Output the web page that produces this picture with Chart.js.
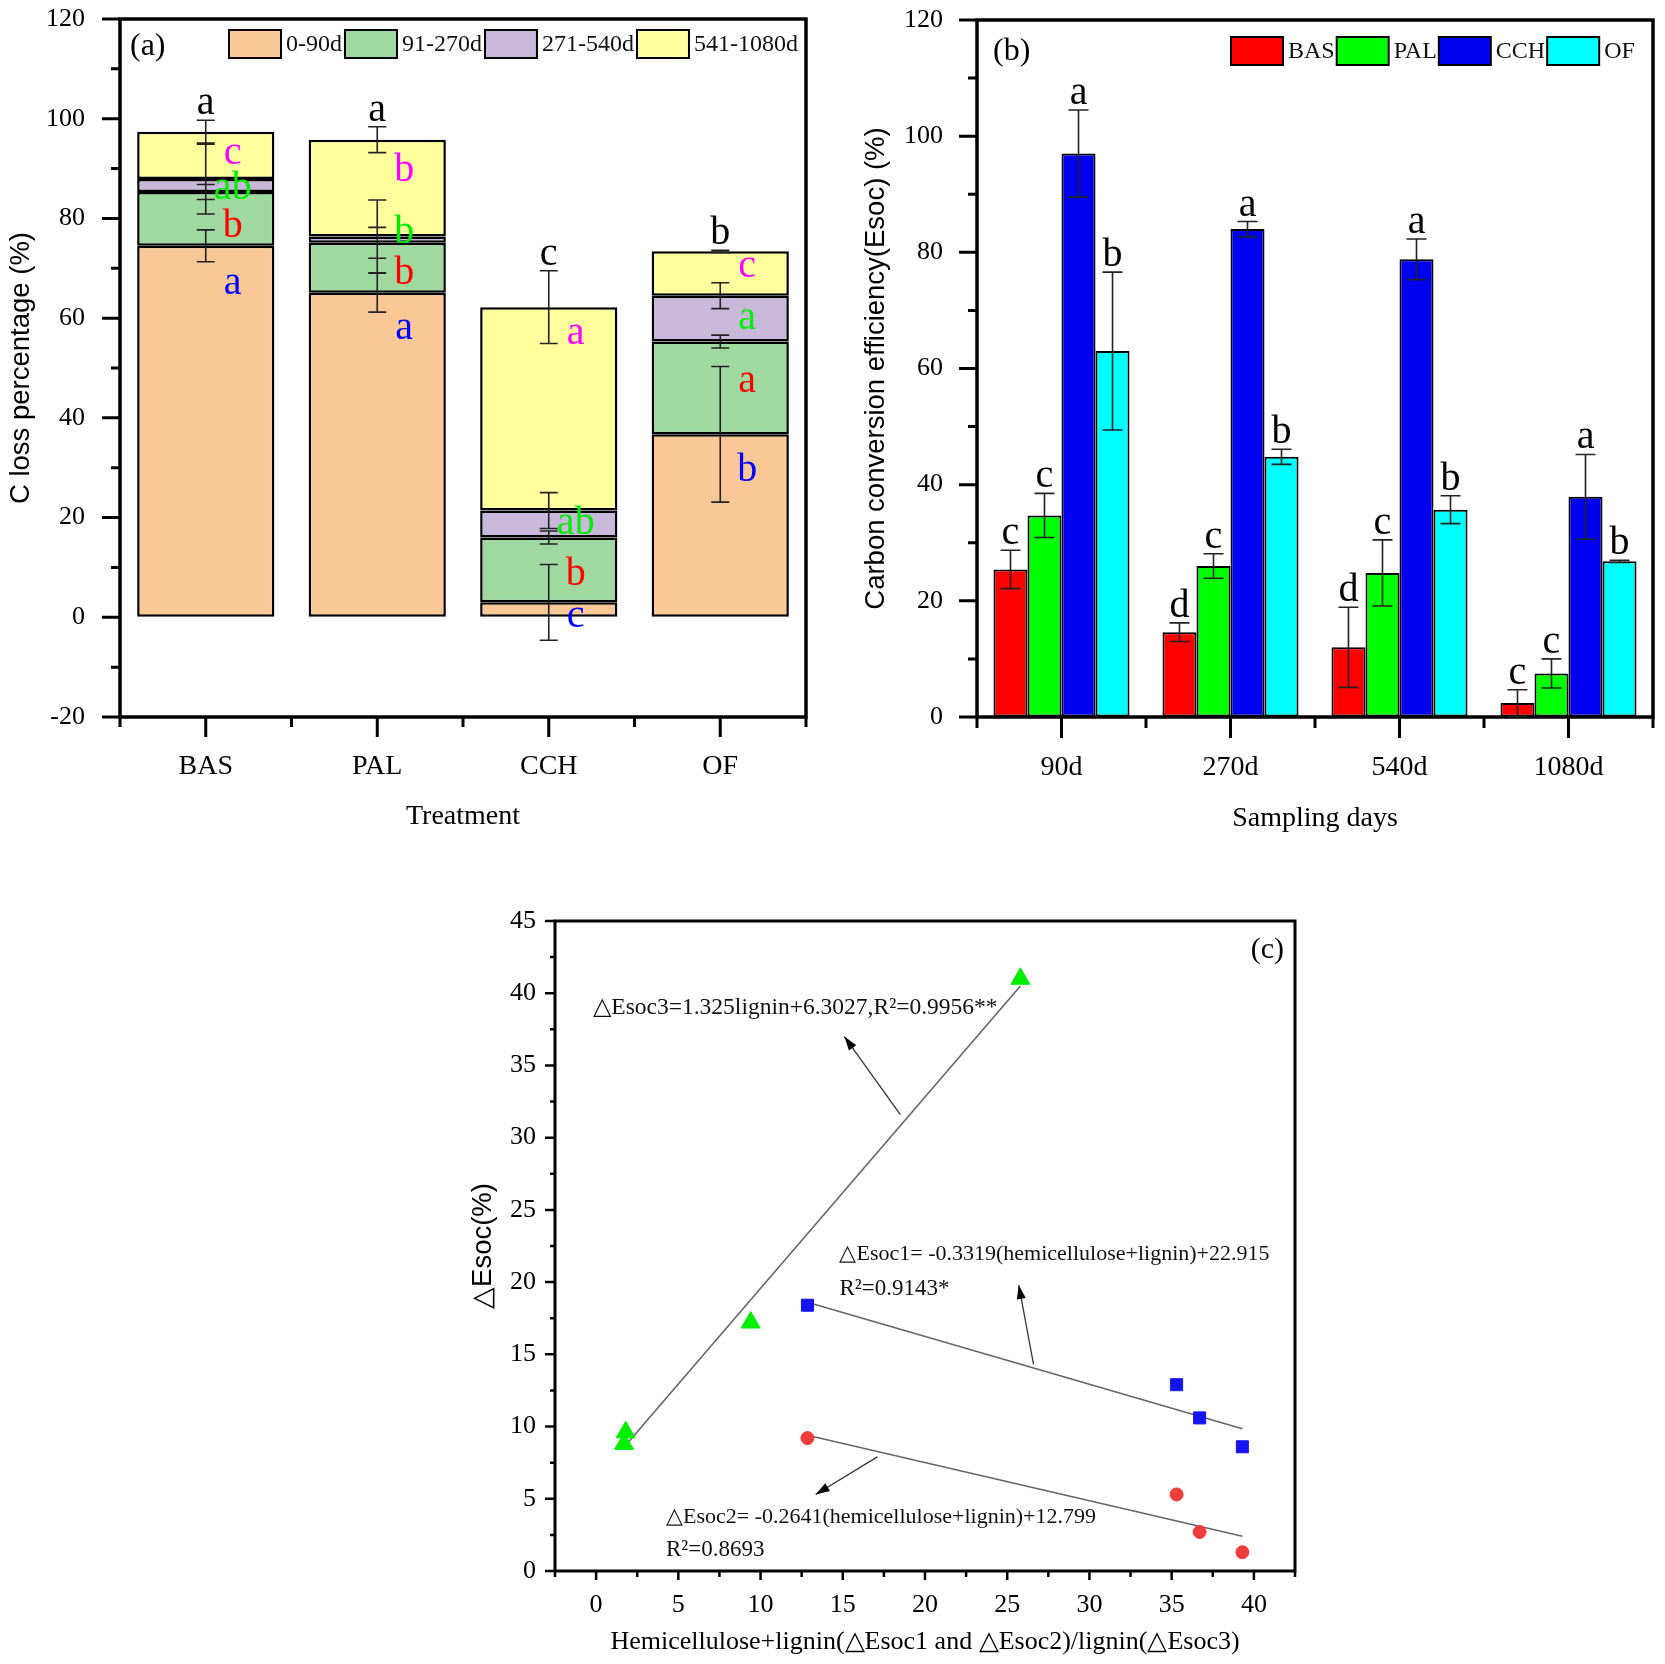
<!DOCTYPE html>
<html>
<head>
<meta charset="utf-8">
<script src="https://cdn.jsdelivr.net/npm/chart.js@4.4.1/dist/chart.umd.min.js"></script>
<style>
  body { margin: 0; background: #fff; width: 1665px; height: 1664px; position: relative; overflow: hidden; }
  canvas { position: absolute; }
</style>
</head>
<body>
<canvas id="chartA" width="830" height="840" style="left:0px;top:0px"></canvas>
<canvas id="chartB" width="835" height="840" style="left:830px;top:0px"></canvas>
<canvas id="chartC" width="900" height="804" style="left:440px;top:860px"></canvas>
<script>
const SERIF = "'Liberation Serif', 'Times New Roman', serif";
const SANS = "'Liberation Sans', Arial, sans-serif";

// ---- panel (a): C loss per period
const treatments = ["BAS", "PAL", "CCH", "OF"];
const periods = ["0-90d", "91-270d", "271-540d", "541-1080d"];
const loss0to90 = [74.5, 65.1, 3.0, 36.7];
const loss91to270 = [10.8, 10.0, 13.0, 18.6];
const loss271to540 = [2.6, 1.3, 5.4, 9.2];
const loss541to1080 = [9.5, 19.4, 40.8, 8.9];
const err0to90 = [3.2, 3.9, 7.6, 13.6];
const err91to270 = [1.5, 3.1, 1.3, 1.3];
const err271to540 = [7.0, 7.3, 3.6, 2.6];
const err541to1080 = [2.3, 2.6, 7.3, 0.2];
const sigTotal = ["a", "a", "c", "b"];
const sig0to90 = ["a", "a", "c", "b"];
const sig91to270 = ["b", "b", "b", "a"];
const sig271to540 = ["ab", "b", "ab", "a"];
const sig541to1080 = ["c", "b", "a", "c"];
// y value where each period letter is written
const sigAt0to90 = [67, 58, 0.1, 29.5];
const sigAt91to270 = [78.3, 69, 8.5, 47.2];
const sigAt271to540 = [86.1, 77.1, 18.9, 60];
const sigAt541to1080 = [93.1, 89.7, 57, 70.3];

// ---- panel (b): Esoc by sampling day
const days = ["90d", "270d", "540d", "1080d"];
const esocBAS = [25.4, 14.6, 12.0, 2.4];
const esocPAL = [34.7, 26.0, 24.8, 7.5];
const esocCCH = [97.0, 84.0, 78.8, 37.9];
const esocOF = [63.0, 44.8, 35.7, 26.8];
const errBAS = [3.3, 1.6, 6.9, 2.3];
const errPAL = [3.8, 2.1, 5.7, 2.5];
const errCCH = [7.5, 1.3, 3.5, 7.3];
const errOF = [13.6, 1.3, 2.4, 0.2];
const sigBAS = ["c", "d", "d", "c"];
const sigPAL = ["c", "c", "c", "c"];
const sigCCH = ["a", "a", "a", "a"];
const sigOF = ["b", "b", "b", "b"];

// ---- panel (c): delta Esoc vs. lignin / hemicellulose+lignin
const lignin = [1.7, 1.8, 9.4, 25.8];
const dEsoc3 = [8.8, 9.6, 17.2, 41.0];
const hemiLignin = [12.85, 35.3, 36.7, 39.3];
const dEsoc1 = [18.4, 12.9, 10.6, 8.6];
const dEsoc2 = [9.2, 5.3, 2.7, 1.3];
const fit3X = [1.8, 25.8], fit3Y = [8.7, 40.5];
const fit1X = [12.85, 39.3], fit1Y = [18.6, 9.85];
const fit2X = [12.85, 39.3], fit2Y = [9.4, 2.4];

function range(a, b, step) {
  const out = [];
  for (let v = a; v <= b + 1e-9; v += step) out.push(v);
  return out;
}

// invisible tick marks only used to push the labels away from the axis
const hiddenGrid = len => ({ display: true, drawOnChartArea: false, drawTicks: true, tickLength: len, color: "rgba(0,0,0,0)" });

function drawFrame(chart, t) {
  const { ctx, chartArea: a, scales: { x, y } } = chart;
  ctx.save();
  ctx.strokeStyle = "#000";
  ctx.lineWidth = t.tickWidth;
  ctx.beginPath();
  t.yMajor.forEach(v => { const p = y.getPixelForValue(v); ctx.moveTo(a.left, p); ctx.lineTo(a.left - t.yMajorLen, p); });
  t.yMinor.forEach(v => { const p = y.getPixelForValue(v); ctx.moveTo(a.left, p); ctx.lineTo(a.left - t.yMinorLen, p); });
  t.xMajor.forEach(v => { const p = x.getPixelForValue(v); ctx.moveTo(p, a.bottom); ctx.lineTo(p, a.bottom + t.xMajorLen); });
  t.xMinor.forEach(v => { const p = x.getPixelForValue(v); ctx.moveTo(p, a.bottom); ctx.lineTo(p, a.bottom + t.xMinorLen); });
  ctx.stroke();
  ctx.lineWidth = t.frameWidth;
  ctx.strokeRect(a.left, a.top, a.right - a.left, a.bottom - a.top);
  ctx.restore();
}

function errBar(ctx, px, yScale, v, e, cap) {
  const y1 = yScale.getPixelForValue(v - e), y2 = yScale.getPixelForValue(v + e);
  ctx.moveTo(px, y1); ctx.lineTo(px, y2);
  ctx.moveTo(px - cap / 2, y1); ctx.lineTo(px + cap / 2, y1);
  ctx.moveTo(px - cap / 2, y2); ctx.lineTo(px + cap / 2, y2);
}

function boxLegend(chart, x0, top, gap) {
  const ctx = chart.ctx;
  ctx.save();
  ctx.font = "24px " + SERIF;
  ctx.textBaseline = "middle";
  ctx.textAlign = "left";
  let x = x0;
  chart.data.datasets.forEach(ds => {
    ctx.fillStyle = ds.backgroundColor;
    ctx.fillRect(x, top, 52, 28);
    ctx.lineWidth = 2;
    ctx.strokeStyle = "#000";
    ctx.strokeRect(x, top, 52, 28);
    ctx.fillStyle = "#111";
    ctx.fillText(ds.label, x + 57, top + 15);
    x += 57 + ctx.measureText(ds.label).width + gap;
  });
  ctx.restore();
}

function panelTag(ctx, text, x, y, size) {
  ctx.save();
  ctx.font = size + "px " + SERIF;
  ctx.fillStyle = "#000";
  ctx.textBaseline = "middle";
  ctx.textAlign = "left";
  ctx.fillText(text, x, y);
  ctx.restore();
}

const yTickFont = { family: SERIF, size: 26 };
const xTickFont = { family: SERIF, size: 28 };
const xTitleFont = { family: SERIF, size: 28 };
const yTitleFont = { family: SANS, size: 27.5 };

// ---------------- panel (a)
const aColors = ["#F9C896", "#A0D9A0", "#C8B8DA", "#FFFF9E"];
const aSegs = [loss0to90, loss91to270, loss271to540, loss541to1080];
const aErrs = [err0to90, err91to270, err271to540, err541to1080];
const aSigs = [sig0to90, sig91to270, sig271to540, sig541to1080];
const aSigAt = [sigAt0to90, sigAt91to270, sigAt271to540, sigAt541to1080];
const aSigColors = ["#0000FF", "#FF0000", "#00EE00", "#FF00FF"];

const decorA = {
  id: "decorA",
  afterDraw(chart) {
    const { ctx, scales: { x, y } } = chart;
    drawFrame(chart, {
      tickWidth: 3, frameWidth: 3.5,
      yMajor: range(-20, 120, 20), yMinor: range(-10, 110, 20), yMajorLen: 18, yMinorLen: 9,
      xMajor: [0, 1, 2, 3], xMinor: [-0.5, 0.5, 1.5, 2.5, 3.5], xMajorLen: 20, xMinorLen: 10
    });
    ctx.save();
    ctx.strokeStyle = "#222";
    ctx.lineWidth = 1.6;
    ctx.beginPath();
    const tops = [];
    treatments.forEach((t, i) => {
      const px = x.getPixelForValue(i);
      let cum = 0, top = -Infinity;
      aSegs.forEach((s, k) => {
        cum += s[i];
        errBar(ctx, px, y, cum, aErrs[k][i], 18);
        top = Math.max(top, cum + aErrs[k][i]);
      });
      tops.push(top);
    });
    ctx.stroke();
    ctx.textAlign = "center";
    ctx.textBaseline = "alphabetic";
    ctx.font = "40px " + SERIF;
    ctx.fillStyle = "#000";
    treatments.forEach((t, i) => {
      ctx.fillText(sigTotal[i], x.getPixelForValue(i), y.getPixelForValue(tops[i]) - 6);
    });
    ctx.textBaseline = "middle";
    aSigs.forEach((sig, k) => {
      ctx.fillStyle = aSigColors[k];
      treatments.forEach((t, i) => {
        ctx.fillText(sig[i], x.getPixelForValue(i) + 27, y.getPixelForValue(aSigAt[k][i]));
      });
    });
    ctx.restore();
    boxLegend(chart, 229, 30, 3);
    panelTag(ctx, "(a)", 130, 47, 32);
  }
};

new Chart(document.getElementById("chartA"), {
  type: "bar",
  data: {
    labels: treatments,
    datasets: aSegs.map((s, k) => ({
      label: periods[k], data: s, backgroundColor: aColors[k],
      borderColor: "#000", borderWidth: 2.5, borderSkipped: false
    }))
  },
  options: {
    responsive: false, animation: false,
    layout: { padding: { top: 19, right: 24, left: 0, bottom: 0 } },
    datasets: { bar: { barPercentage: 0.8, categoryPercentage: 1 } },
    plugins: { legend: { display: false }, tooltip: { enabled: false } },
    scales: {
      x: {
        stacked: true,
        grid: hiddenGrid(33), border: { display: false },
        ticks: { font: xTickFont, color: "#000", padding: 0 },
        title: { display: true, text: "Treatment", font: xTitleFont, color: "#000", padding: { top: 0, bottom: 7 } },
        afterFit(s) { s.height = 123; }
      },
      y: {
        stacked: true, min: -20, max: 120,
        grid: hiddenGrid(35), border: { display: false },
        ticks: { stepSize: 20, font: yTickFont, color: "#000", padding: 0 },
        title: { display: true, text: "C loss percentage (%)", font: yTitleFont, color: "#000", padding: { top: 5, bottom: 0 } },
        afterFit(s) { s.width = 120; }
      }
    }
  },
  plugins: [decorA]
});

// ---------------- panel (b)
const bValues = [esocBAS, esocPAL, esocCCH, esocOF];
const bErrs = [errBAS, errPAL, errCCH, errOF];
const bSigs = [sigBAS, sigPAL, sigCCH, sigOF];
const bNames = ["BAS", "PAL", "CCH", "OF"];
const bColors = ["#FF0000", "#00FF00", "#0000F0", "#00FFFF"];

const decorB = {
  id: "decorB",
  afterDraw(chart) {
    const { ctx, scales: { y } } = chart;
    drawFrame(chart, {
      tickWidth: 3, frameWidth: 3.5,
      yMajor: range(0, 120, 20), yMinor: range(10, 110, 20), yMajorLen: 18, yMinorLen: 9,
      xMajor: [0, 1, 2, 3], xMinor: [-0.5, 0.5, 1.5, 2.5, 3.5], xMajorLen: 21, xMinorLen: 11
    });
    ctx.save();
    ctx.strokeStyle = "#222";
    ctx.lineWidth = 1.6;
    ctx.beginPath();
    bValues.forEach((vals, d) => {
      const meta = chart.getDatasetMeta(d);
      vals.forEach((v, i) => errBar(ctx, meta.data[i].x, y, v, bErrs[d][i], 20));
    });
    ctx.stroke();
    ctx.font = "40px " + SERIF;
    ctx.fillStyle = "#000";
    ctx.textAlign = "center";
    ctx.textBaseline = "alphabetic";
    bValues.forEach((vals, d) => {
      const meta = chart.getDatasetMeta(d);
      vals.forEach((v, i) => ctx.fillText(bSigs[d][i], meta.data[i].x, y.getPixelForValue(v + bErrs[d][i]) - 6));
    });
    ctx.restore();
    boxLegend(chart, 401, 37, 2);
    panelTag(ctx, "(b)", 163, 52, 32);
  }
};

new Chart(document.getElementById("chartB"), {
  type: "bar",
  data: {
    labels: days,
    datasets: bValues.map((v, d) => ({
      label: bNames[d], data: v, backgroundColor: bColors[d],
      borderColor: "#000", borderWidth: 2, borderSkipped: false
    }))
  },
  options: {
    responsive: false, animation: false,
    layout: { padding: { top: 20, right: 12, left: 0, bottom: 0 } },
    datasets: { bar: { barPercentage: 1, categoryPercentage: 0.805 } },
    plugins: { legend: { display: false }, tooltip: { enabled: false } },
    scales: {
      x: {
        grid: hiddenGrid(34), border: { display: false },
        ticks: { font: xTickFont, color: "#000", padding: 0 },
        title: { display: true, text: "Sampling days", font: xTitleFont, color: "#000", padding: { top: 0, bottom: 5 } },
        afterFit(s) { s.height = 123; }
      },
      y: {
        min: 0, max: 120,
        grid: hiddenGrid(34), border: { display: false },
        ticks: { stepSize: 20, font: yTickFont, color: "#000", padding: 0 },
        title: { display: true, text: "Carbon conversion efficiency(Esoc) (%)", font: yTitleFont, color: "#000", padding: { top: 30, bottom: 0 } },
        afterFit(s) { s.width = 147; }
      }
    }
  },
  plugins: [decorB]
});

// ---------------- panel (c)
const cNotes = [
  { text: "\u25B3Esoc3=1.325lignin+6.3027,R\u00B2=0.9956**", x: -0.17, y: 39.0, size: 23.5 },
  { text: "\u25B3Esoc1= -0.3319(hemicellulose+lignin)+22.915", x: 14.8, y: 21.9, size: 22 },
  { text: "R\u00B2=0.9143*", x: 14.8, y: 19.5, size: 23 },
  { text: "\u25B3Esoc2= -0.2641(hemicellulose+lignin)+12.799", x: 4.25, y: 3.7, size: 22 },
  { text: "R\u00B2=0.8693", x: 4.25, y: 1.45, size: 23 }
];
const cArrows = [
  { from: [18.5, 31.6], to: [15.1, 37.0] },
  { from: [26.6, 14.3], to: [25.7, 19.8] },
  { from: [17.1, 7.9], to: [13.35, 5.3] }
];

function arrow(ctx, x1, y1, x2, y2) {
  ctx.beginPath(); ctx.moveTo(x1, y1); ctx.lineTo(x2, y2); ctx.stroke();
  const ang = Math.atan2(y2 - y1, x2 - x1), L = 14, W = 4.5;
  ctx.beginPath();
  ctx.moveTo(x2, y2);
  ctx.lineTo(x2 - L * Math.cos(ang) + W * Math.sin(ang), y2 - L * Math.sin(ang) - W * Math.cos(ang));
  ctx.lineTo(x2 - L * Math.cos(ang) - W * Math.sin(ang), y2 - L * Math.sin(ang) + W * Math.cos(ang));
  ctx.closePath(); ctx.fill();
}

const decorC = {
  id: "decorC",
  afterDraw(chart) {
    const { ctx, chartArea: a, scales: { x, y } } = chart;
    drawFrame(chart, {
      tickWidth: 2.5, frameWidth: 3,
      yMajor: range(0, 45, 5), yMinor: range(2.5, 42.5, 5), yMajorLen: 10, yMinorLen: 5,
      xMajor: range(0, 40, 5), xMinor: range(-2.5, 42.5, 5), xMajorLen: 9, xMinorLen: 6
    });
    ctx.save();
    ctx.fillStyle = "#111";
    ctx.textAlign = "left";
    ctx.textBaseline = "middle";
    cNotes.forEach(n => {
      ctx.font = n.size + "px " + SERIF;
      ctx.fillText(n.text, x.getPixelForValue(n.x), y.getPixelForValue(n.y));
    });
    ctx.strokeStyle = "#333";
    ctx.fillStyle = "#000";
    ctx.lineWidth = 1.3;
    cArrows.forEach(r => arrow(ctx,
      x.getPixelForValue(r.from[0]), y.getPixelForValue(r.from[1]),
      x.getPixelForValue(r.to[0]), y.getPixelForValue(r.to[1])));
    ctx.font = "30px " + SERIF;
    ctx.textAlign = "right";
    ctx.fillText("(c)", a.right - 11, a.top + 29);
    ctx.restore();
  }
};

const pts = (xs, ys) => xs.map((v, i) => ({ x: v, y: ys[i] }));
const cTickFont = { family: SERIF, size: 26 };

new Chart(document.getElementById("chartC"), {
  type: "scatter",
  data: {
    datasets: [
      { label: "\u25B3Esoc3", data: pts(lignin, dEsoc3), pointStyle: "triangle", pointRadius: 11,
        backgroundColor: "#00EE00", borderColor: "#00EE00", borderWidth: 1 },
      { label: "\u25B3Esoc1", data: pts(hemiLignin, dEsoc1), pointStyle: "rect", pointRadius: 8.5,
        backgroundColor: "#1414F0", borderColor: "#1414F0", borderWidth: 1 },
      { label: "\u25B3Esoc2", data: pts(hemiLignin, dEsoc2), pointStyle: "circle", pointRadius: 6.5,
        backgroundColor: "#F03C3C", borderColor: "#F03C3C", borderWidth: 1 },
      { label: "fit3", data: pts(fit3X, fit3Y), showLine: true, borderColor: "#666", borderWidth: 1.6, pointRadius: 0 },
      { label: "fit1", data: pts(fit1X, fit1Y), showLine: true, borderColor: "#666", borderWidth: 1.6, pointRadius: 0 },
      { label: "fit2", data: pts(fit2X, fit2Y), showLine: true, borderColor: "#666", borderWidth: 1.6, pointRadius: 0 }
    ]
  },
  options: {
    responsive: false, animation: false,
    layout: { padding: { top: 61, right: 45, left: 0, bottom: 0 } },
    plugins: { legend: { display: false }, tooltip: { enabled: false } },
    scales: {
      x: {
        type: "linear", min: -2.5, max: 42.5,
        grid: hiddenGrid(19), border: { display: false },
        ticks: { font: cTickFont, color: "#000", padding: 0, autoSkip: false },
        afterBuildTicks(s) { s.ticks = range(0, 40, 5).map(v => ({ value: v })); },
        title: { display: true, text: "Hemicellulose+lignin(\u25B3Esoc1 and \u25B3Esoc2)/lignin(\u25B3Esoc3)",
                 font: { family: SERIF, size: 26 }, color: "#000", padding: { top: 0, bottom: 6 } },
        afterFit(s) { s.height = 93; }
      },
      y: {
        min: 0, max: 45,
        grid: hiddenGrid(19), border: { display: false },
        ticks: { stepSize: 5, font: cTickFont, color: "#000", padding: 0 },
        title: { display: true, text: "\u25B3Esoc(%)", font: yTitleFont, color: "#000", padding: { top: 27, bottom: 0 } },
        afterFit(s) { s.width = 115; }
      }
    }
  },
  plugins: [decorC]
});
</script>
</body>
</html>
